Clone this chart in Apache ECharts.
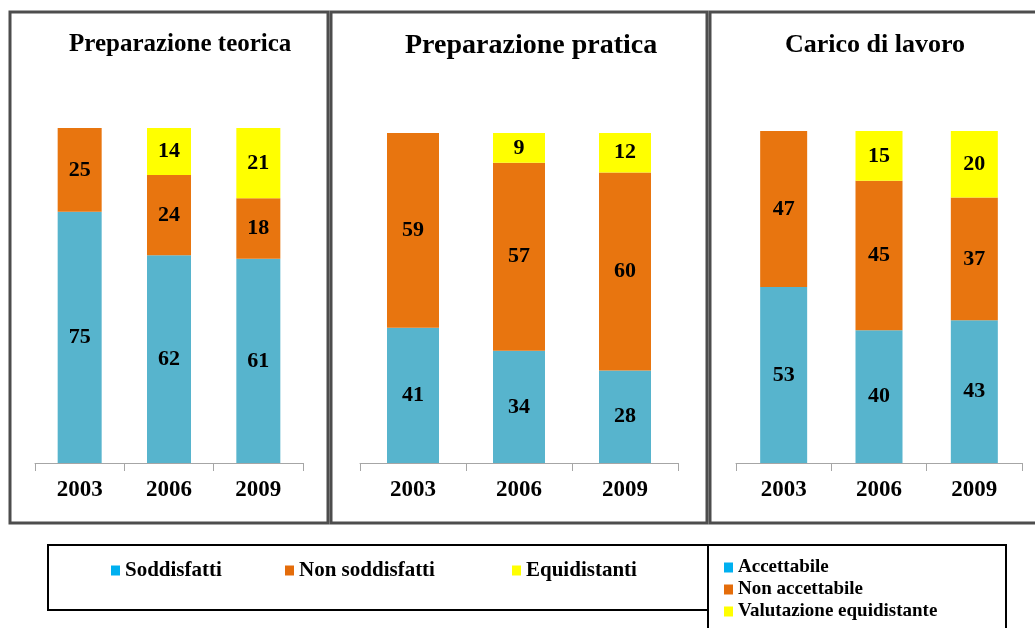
<!DOCTYPE html>
<html>
<head>
<meta charset="utf-8">
<script src="https://cdn.jsdelivr.net/npm/echarts@6/dist/echarts.min.js"></script>
<style>
  html, body { margin: 0; padding: 0; background: #fff; }
  #chart { width: 1035px; height: 628px; }
</style>
</head>
<body>
<div id="chart"></div>
<script>
const years = ['2003', '2006', '2009'];

// Preparazione teorica
const teoricaSoddisfatti = [75, 62, 61];
const teoricaNonSoddisfatti = [25, 24, 18];
const teoricaEquidistanti = [null, 14, 21];

// Preparazione pratica
const praticaSoddisfatti = [41, 34, 28];
const praticaNonSoddisfatti = [59, 57, 60];
const praticaEquidistanti = [null, 9, 12];

// Carico di lavoro
const caricoAccettabile = [53, 40, 43];
const caricoNonAccettabile = [47, 45, 37];
const caricoEquidistante = [null, 15, 20];

const BLUE = '#57B4CD';
const ORANGE = '#E8750F';
const YELLOW = '#FFFF00';
const LEG_BLUE = '#00B0F0'; // il quadratino della legenda e' piu' acceso
const LEG_ORANGE = '#E46C0A';
const SERIF = '"Liberation Serif", "Times New Roman", serif';

const chart = echarts.init(document.getElementById('chart'));

const panels = [
  { left: 35, width: 268, top: 128, height: 335, barWidth: 44 },
  { left: 360, width: 318, top: 133, height: 330, barWidth: 52 },
  { left: 736, width: 286, top: 131, height: 332, barWidth: 47 }
];

const legendColors = {
  'Soddisfatti': LEG_BLUE,
  'Non soddisfatti': LEG_ORANGE,
  'Equidistanti': YELLOW,
  'Accettabile': LEG_BLUE,
  'Non accettabile': LEG_ORANGE,
  'Valutazione equidistante': YELLOW
};

const barLabel = {
  show: true,
  position: 'inside',
  color: '#000',
  fontFamily: SERIF,
  fontWeight: 'bold',
  fontSize: 22
};

const makeSeries = (idx, name, data, color) => ({
  name: name,
  type: 'bar',
  stack: 'p' + idx,
  xAxisIndex: idx,
  yAxisIndex: idx,
  barWidth: panels[idx].barWidth,
  itemStyle: { color: color },
  label: barLabel,
  data: data
});

const legendItem = (names, left, top, fontSize) => ({
  data: names.map(n => ({ name: n, itemStyle: { color: legendColors[n] } })),
  left: left,
  top: top,
  padding: 0,
  icon: 'rect',
  itemWidth: 9,
  itemHeight: 10,
  itemGap: 4,
  selectedMode: false,
  textStyle: { fontFamily: SERIF, fontWeight: 'bold', fontSize: fontSize, color: '#000' }
});

chart.setOption({
  animation: false,
  title: [
    { text: 'Preparazione teorica', left: 69, top: 32, padding: 0,
      textStyle: { fontFamily: SERIF, fontWeight: 'bold', fontSize: 25, color: '#000' } },
    { text: 'Preparazione pratica', left: 405, top: 32, padding: 0,
      textStyle: { fontFamily: SERIF, fontWeight: 'bold', fontSize: 28, color: '#000' } },
    { text: 'Carico di lavoro', left: 785, top: 32, padding: 0,
      textStyle: { fontFamily: SERIF, fontWeight: 'bold', fontSize: 26, color: '#000' } }
  ],
  legend: [
    legendItem(['Soddisfatti'], 111, 560, 21),
    legendItem(['Non soddisfatti'], 285, 560, 21),
    legendItem(['Equidistanti'], 512, 560, 21),
    Object.assign(legendItem(['Accettabile', 'Non accettabile', 'Valutazione equidistante'], 724, 558, 19), {
      orient: 'vertical',
      itemGap: 3
    })
  ],
  grid: panels.map(p => ({ left: p.left, width: p.width, top: p.top, height: p.height })),
  xAxis: panels.map((p, i) => ({
    type: 'category',
    gridIndex: i,
    data: years,
    axisLine: { lineStyle: { color: '#A6A6A6', width: 1 } },
    axisTick: { show: true, length: 8, lineStyle: { color: '#A6A6A6' } },
    axisLabel: { margin: 16, color: '#000', fontFamily: SERIF, fontWeight: 'bold', fontSize: 23 }
  })),
  yAxis: panels.map((p, i) => ({
    type: 'value',
    gridIndex: i,
    min: 0,
    max: 100,
    show: false
  })),
  series: [
    makeSeries(0, 'Soddisfatti', teoricaSoddisfatti, BLUE),
    makeSeries(0, 'Non soddisfatti', teoricaNonSoddisfatti, ORANGE),
    makeSeries(0, 'Equidistanti', teoricaEquidistanti, YELLOW),
    makeSeries(1, 'Soddisfatti', praticaSoddisfatti, BLUE),
    makeSeries(1, 'Non soddisfatti', praticaNonSoddisfatti, ORANGE),
    makeSeries(1, 'Equidistanti', praticaEquidistanti, YELLOW),
    makeSeries(2, 'Accettabile', caricoAccettabile, BLUE),
    makeSeries(2, 'Non accettabile', caricoNonAccettabile, ORANGE),
    makeSeries(2, 'Valutazione equidistante', caricoEquidistante, YELLOW)
  ],
  graphic: [
    // cornici dei tre pannelli
    { type: 'rect', shape: { x: 10, y: 12, width: 318, height: 511 },
      style: { fill: null, stroke: '#4D4D4D', lineWidth: 3 } },
    { type: 'rect', shape: { x: 331, y: 12, width: 376, height: 511 },
      style: { fill: null, stroke: '#4D4D4D', lineWidth: 3 } },
    { type: 'rect', shape: { x: 710, y: 12, width: 340, height: 511 },
      style: { fill: null, stroke: '#4D4D4D', lineWidth: 3 } },
    // riquadri delle legende
    { type: 'rect', shape: { x: 48, y: 545, width: 660, height: 65 },
      style: { fill: null, stroke: '#000', lineWidth: 2 } },
    { type: 'rect', shape: { x: 708, y: 545, width: 298, height: 100 },
      style: { fill: null, stroke: '#000', lineWidth: 2 } }
  ]
});
</script>
</body>
</html>
